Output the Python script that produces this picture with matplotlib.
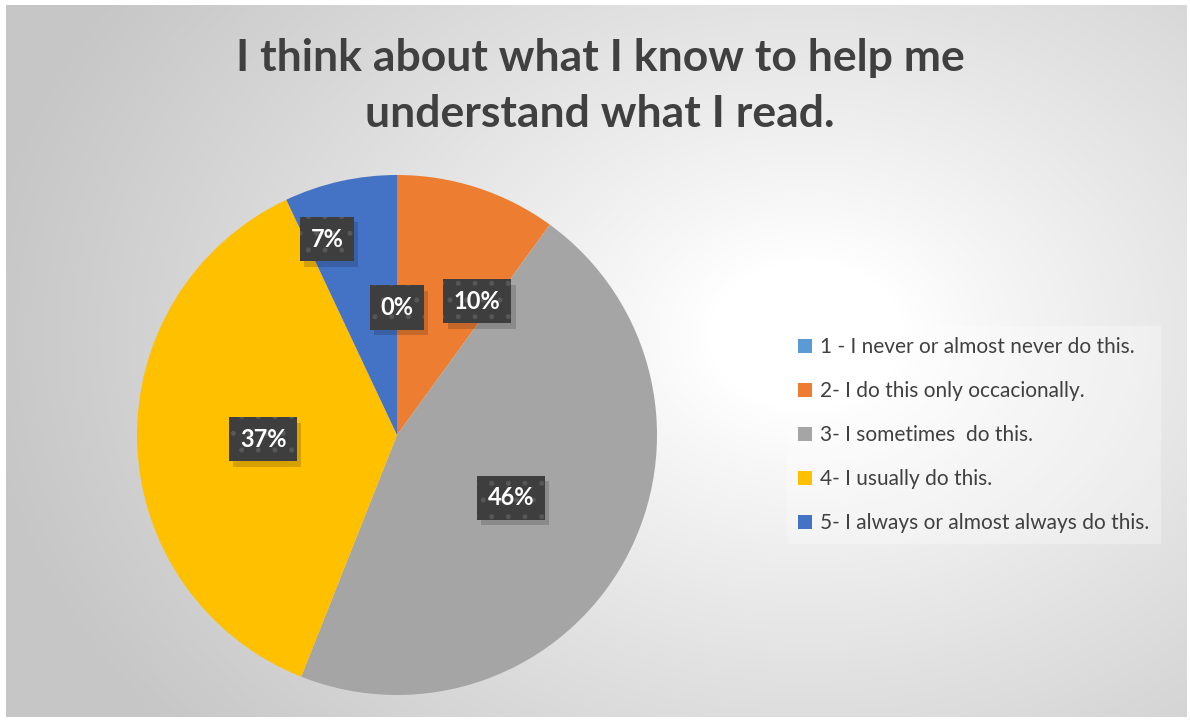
import numpy as np
import matplotlib.pyplot as plt
import matplotlib.patheffects as pe

# Survey answers (percent of students)
categories = ["1 - I never or almost never do this.",
              "2- I do this only occacionally.",
              "3- I sometimes  do this.",
              "4- I usually do this.",
              "5- I always or almost always do this."]
percents = [0, 10, 46, 37, 7]
colors = ["#5B9BD5", "#ED7D31", "#A5A5A5", "#FFC000", "#4472C4"]

# where each data label sits: angle shift (deg, clockwise) and radius fraction
label_shift = [0, 13, 0, 0, -7]
label_dist = [0.49, 0.60, 0.50, 0.515, 0.80]

title = "I think about what I know to help me\nunderstand what I read."


class BoxShadow(pe.SimplePatchShadow):
    # plain shadow, without the hatch of the box it belongs to
    def draw_path(self, renderer, gc, tpath, affine, rgbFace):
        gc0 = renderer.new_gc()
        gc0.copy_properties(gc)
        gc0.set_hatch(None)
        super().draw_path(renderer, gc0, tpath, affine, rgbFace)
        gc0.restore()


W, H = 1190, 723
fig = plt.figure(figsize=(W / 100, H / 100), dpi=100)
fig.patch.set_facecolor("white")

# chart area with radial grey gradient
bg = fig.add_axes([6 / W, 6 / H, 1181 / W, 712 / H])
yy, xx = np.mgrid[0:712, 0:1181]
cx, cy = 800, 330
d = np.sqrt(((xx - cx) / 820.0) ** 2 + ((yy - cy) / 620.0) ** 2)
t = np.clip((d - 0.12) / 0.88, 0, 1) ** 0.9
shade = 1.0 - t * (1.0 - 0.78)
bg.imshow(np.dstack([shade] * 3), extent=(0, 1181, 712, 0), aspect="auto")
bg.set_axis_off()

# pie itself
R = 260
ax = fig.add_axes([(397 - R) / W, (H - 435 - R) / H, 2 * R / W, 2 * R / H])
wedges, _ = ax.pie(percents, colors=colors, startangle=90, counterclock=False,
                   wedgeprops=dict(linewidth=0))
ax.set_xlim(-1, 1)
ax.set_ylim(-1, 1)
ax.set_aspect("equal")
ax.set_axis_off()

plt.rcParams["hatch.linewidth"] = 1.2
for w, p, sh, r in zip(wedges, percents, label_shift, label_dist):
    mid = np.deg2rad((w.theta1 + w.theta2) / 2 - sh)
    x, y = r * np.cos(mid), r * np.sin(mid)
    txt = ax.text(x, y, f"{p}%", ha="center", va="center", color="white",
                  fontsize=17, fontweight="bold", family="Lato",
                  bbox=dict(boxstyle="square,pad=0.45", fc="#3e3e3e",
                            ec="#575757", lw=0, hatch="."))
    txt.get_bbox_patch().set_path_effects(
        [BoxShadow(offset=(3, -4), shadow_rgbFace="black", alpha=0.16),
         pe.Normal()])

fig.text(600 / W, 1 - 86 / H, title, ha="center", va="center", fontsize=32,
         fontweight="bold", family="Lato", color="#404040", linespacing=1.5)

leg = fig.legend(wedges, categories, loc="center left",
                 bbox_to_anchor=(787 / W, 1 - 435 / H), frameon=True,
                 prop=dict(family="Lato", size=15), labelcolor="#404040",
                 handlelength=0.65, handleheight=0.65, handletextpad=0.4,
                 labelspacing=1.15, borderpad=0.55, borderaxespad=0,
                 fancybox=False)
leg.get_frame().set_facecolor("white")
leg.get_frame().set_alpha(0.3)
leg.get_frame().set_linewidth(0)

fig.savefig("out.png", dpi=100)
